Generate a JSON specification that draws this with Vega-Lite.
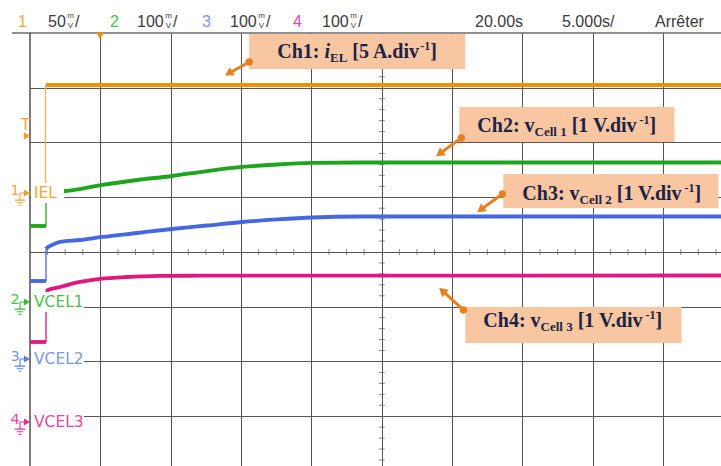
{
  "$schema": "https://vega.github.io/schema/vega-lite/v6.json",
  "width": 691,
  "height": 433,
  "autosize": {"type": "none"},
  "padding": {"left": 30, "top": 33, "right": 0, "bottom": 0},
  "background": "white",
  "config": {"view": {"stroke": null}},
  "datasets": {
    "traces": [
      {"ch": "1", "seg": "1a", "t": 0, "v": 1.078},
      {"ch": "1", "seg": "1a", "t": 1.138, "v": 1.078},
      {"ch": "1", "seg": "1b", "t": 1.138, "v": 3.05},
      {"ch": "1", "seg": "1b", "t": 49.11, "v": 3.05},
      {"ch": "2", "seg": "2a", "t": 0, "v": 0.475},
      {"ch": "2", "seg": "2a", "t": 1.138, "v": 0.475},
      {"ch": "2", "seg": "2b", "t": 1.138, "v": 1.105},
      {"ch": "2", "seg": "2b", "t": 2.489, "v": 1.114},
      {"ch": "2", "seg": "2b", "t": 5.121, "v": 1.224},
      {"ch": "2", "seg": "2b", "t": 7.61, "v": 1.315},
      {"ch": "2", "seg": "2b", "t": 10.1, "v": 1.388},
      {"ch": "2", "seg": "2b", "t": 12.589, "v": 1.479},
      {"ch": "2", "seg": "2b", "t": 15.078, "v": 1.553},
      {"ch": "2", "seg": "2b", "t": 17.568, "v": 1.598},
      {"ch": "2", "seg": "2b", "t": 20.057, "v": 1.626},
      {"ch": "2", "seg": "2b", "t": 23.471, "v": 1.635},
      {"ch": "2", "seg": "2b", "t": 49.11, "v": 1.635},
      {"ch": "3", "seg": "3a", "t": 0, "v": -0.53},
      {"ch": "3", "seg": "3a", "t": 1.138, "v": -0.53},
      {"ch": "3", "seg": "3b", "t": 1.138, "v": 0.055},
      {"ch": "3", "seg": "3b", "t": 1.28, "v": 0.091},
      {"ch": "3", "seg": "3b", "t": 1.565, "v": 0.128},
      {"ch": "3", "seg": "3b", "t": 2.134, "v": 0.183},
      {"ch": "3", "seg": "3b", "t": 3.556, "v": 0.219},
      {"ch": "3", "seg": "3b", "t": 5.121, "v": 0.274},
      {"ch": "3", "seg": "3b", "t": 7.61, "v": 0.347},
      {"ch": "3", "seg": "3b", "t": 10.1, "v": 0.42},
      {"ch": "3", "seg": "3b", "t": 12.589, "v": 0.484},
      {"ch": "3", "seg": "3b", "t": 15.078, "v": 0.548},
      {"ch": "3", "seg": "3b", "t": 17.568, "v": 0.594},
      {"ch": "3", "seg": "3b", "t": 20.057, "v": 0.63},
      {"ch": "3", "seg": "3b", "t": 23.471, "v": 0.648},
      {"ch": "3", "seg": "3b", "t": 49.11, "v": 0.648},
      {"ch": "4", "seg": "4a", "t": 0, "v": -1.644},
      {"ch": "4", "seg": "4a", "t": 1.138, "v": -1.644},
      {"ch": "4", "seg": "4b", "t": 1.138, "v": -0.712},
      {"ch": "4", "seg": "4b", "t": 1.28, "v": -0.694},
      {"ch": "4", "seg": "4b", "t": 2.134, "v": -0.639},
      {"ch": "4", "seg": "4b", "t": 3.201, "v": -0.566},
      {"ch": "4", "seg": "4b", "t": 4.979, "v": -0.493},
      {"ch": "4", "seg": "4b", "t": 6.899, "v": -0.457},
      {"ch": "4", "seg": "4b", "t": 9.246, "v": -0.438},
      {"ch": "4", "seg": "4b", "t": 12.091, "v": -0.433},
      {"ch": "4", "seg": "4b", "t": 49.11, "v": -0.429}
    ],
    "steps": [
      {"ch": "1", "t": 1.102, "v1": 1.078, "v2": 3.05},
      {"ch": "2", "t": 1.138, "v1": 0.475, "v2": 1.105},
      {"ch": "3", "t": 1.138, "v1": -0.53, "v2": 0.055},
      {"ch": "4", "t": 1.138, "v1": -1.644, "v2": -0.712}
    ],
    "frame": [
      {"t": -1.28, "t2": 49.11, "v": 4, "v2": 4},
      {"t": 0, "t2": 0, "v": -3.909, "v2": 4}
    ],
    "xminor": [
      {"t": 1.25}, {"t": 2.5}, {"t": 3.75}, {"t": 6.25}, {"t": 7.5}, {"t": 8.75},
      {"t": 11.25}, {"t": 12.5}, {"t": 13.75}, {"t": 16.25}, {"t": 17.5}, {"t": 18.75},
      {"t": 21.25}, {"t": 22.5}, {"t": 23.75}, {"t": 26.25}, {"t": 27.5}, {"t": 28.75},
      {"t": 31.25}, {"t": 32.5}, {"t": 33.75}, {"t": 36.25}, {"t": 37.5}, {"t": 38.75},
      {"t": 41.25}, {"t": 42.5}, {"t": 43.75}, {"t": 46.25}, {"t": 47.5}, {"t": 48.75}
    ],
    "yminor": [
      {"v": -3.8}, {"v": -3.6}, {"v": -3.4}, {"v": -3.2}, {"v": -2.8}, {"v": -2.6}, {"v": -2.4}, {"v": -2.2},
      {"v": -1.8}, {"v": -1.6}, {"v": -1.4}, {"v": -1.2}, {"v": -0.8}, {"v": -0.6}, {"v": -0.4}, {"v": -0.2},
      {"v": 0.2}, {"v": 0.4}, {"v": 0.6}, {"v": 0.8}, {"v": 1.2}, {"v": 1.4}, {"v": 1.6}, {"v": 1.8},
      {"v": 2.2}, {"v": 2.4}, {"v": 2.6}, {"v": 2.8}, {"v": 3.2}, {"v": 3.4}, {"v": 3.6}, {"v": 3.8}
    ],
    "chans": [
      {"ch": "1", "name": "IEL", "v": 1.078, "vt": 1.261, "vb": 0.895, "t1": 0.071, "t2": 2.418},
      {"ch": "2", "name": "VCEL1", "v": -0.913, "vt": -0.73, "vb": -1.096, "t1": 0.071, "t2": 3.841},
      {"ch": "3", "name": "VCEL2", "v": -1.954, "vt": -1.771, "vb": -2.137, "t1": 0.071, "t2": 3.841},
      {"ch": "4", "name": "VCEL3", "v": -3.105, "vt": -2.922, "vb": -3.288, "t1": 0.071, "t2": 3.841}
    ],
    "header": [
      {"t": -0.853, "s": "1", "c": "1"},
      {"t": 1.279, "s": "50", "c": "0"},
      {"t": 3.198, "s": "/", "c": "0"},
      {"t": 5.686, "s": "2", "c": "2"},
      {"t": 7.605, "s": "100", "c": "0"},
      {"t": 10.163, "s": "/", "c": "0"},
      {"t": 12.225, "s": "3", "c": "3"},
      {"t": 14.215, "s": "100", "c": "0"},
      {"t": 16.773, "s": "/", "c": "0"},
      {"t": 18.692, "s": "4", "c": "4"},
      {"t": 20.753, "s": "100", "c": "0"},
      {"t": 23.312, "s": "/", "c": "0"},
      {"t": 31.628, "s": "20.00s", "c": "0"},
      {"t": 37.811, "s": "5.000s/", "c": "0"},
      {"t": 44.421, "s": "Arrêter", "c": "0"}
    ],
    "units": [
      {"t": 2.878, "v": 4.28, "s": "m"}, {"t": 2.878, "v": 4.1, "s": "V"},
      {"t": 9.844, "v": 4.28, "s": "m"}, {"t": 9.844, "v": 4.1, "s": "V"},
      {"t": 16.453, "v": 4.28, "s": "m"}, {"t": 16.453, "v": 4.1, "s": "V"},
      {"t": 22.992, "v": 4.28, "s": "m"}, {"t": 22.992, "v": 4.1, "s": "V"}
    ],
    "boxes": [
      {"t1": 15.576, "t2": 30.939, "v1": 3.982, "v2": 3.342},
      {"t1": 30.512, "t2": 45.804, "v1": 2.648, "v2": 2.009},
      {"t1": 33.642, "t2": 48.933, "v1": 1.425, "v2": 0.804},
      {"t1": 30.939, "t2": 46.302, "v1": -1.005, "v2": -1.662}
    ],
    "maintext": [
      {"t": 17.568, "v": 3.543, "s": "Ch1:"},
      {"t": 22.909, "v": 3.543, "s": "[5 A.div"},
      {"t": 28.442, "v": 3.543, "s": "]"},
      {"t": 31.792, "v": 2.192, "s": "Ch2: v"},
      {"t": 38.5, "v": 2.192, "s": "[1 V.div"},
      {"t": 44.033, "v": 2.192, "s": "]"},
      {"t": 34.993, "v": 0.95, "s": "Ch3: v"},
      {"t": 41.7, "v": 0.95, "s": "[1 V.div"},
      {"t": 47.233, "v": 0.95, "s": "]"},
      {"t": 32.219, "v": -1.37, "s": "Ch4: v"},
      {"t": 38.926, "v": -1.37, "s": "[1 V.div"},
      {"t": 44.459, "v": -1.37, "s": "]"}
    ],
    "italtext": [
      {"t": 20.925, "v": 3.543, "s": "i"}
    ],
    "subtext": [
      {"t": 21.323, "v": 3.47, "s": "EL"},
      {"t": 35.861, "v": 2.119, "s": "Cell 1"},
      {"t": 39.061, "v": 0.877, "s": "Cell 2"},
      {"t": 36.287, "v": -1.443, "s": "Cell 3"}
    ],
    "suptext": [
      {"t": 27.731, "v": 3.689, "s": "-1"},
      {"t": 43.321, "v": 2.338, "s": "-1"},
      {"t": 46.522, "v": 1.096, "s": "-1"},
      {"t": 43.748, "v": -1.224, "s": "-1"}
    ],
    "arrows": [
      {"id": 1, "t": 15.576, "v": 3.47, "t2": 14.118, "v2": 3.26},
      {"id": 2, "t": 30.654, "v": 2.082, "t2": 29.104, "v2": 1.795},
      {"id": 3, "t": 33.57, "v": 1.059, "t2": 32.02, "v2": 0.773},
      {"id": 4, "t": 30.797, "v": -1.059, "t2": 29.303, "v2": -0.707}
    ]
  },
  "resolve": {"scale": {"color": "independent"}},
  "layer": [
    {
      "data": {"name": "xminor"},
      "mark": {"type": "tick", "orient": "vertical", "size": 6, "thickness": 1, "color": "#555555"},
      "encoding": {
        "x": {"field": "t", "type": "quantitative", "scale": {"domain": [0, 49.11], "nice": false, "zero": false},
          "axis": {"orient": "bottom", "values": [5, 10, 15, 20, 25, 30, 35, 40, 45], "grid": true, "gridColor": "#555555", "gridWidth": 1, "gridOpacity": 1, "domain": false, "ticks": false, "labels": false, "title": null}},
        "y": {"datum": 0, "type": "quantitative", "scale": {"domain": [-3.909, 4], "nice": false, "zero": false},
          "axis": {"orient": "left", "values": [-3, -2, -1, 0, 1, 2, 3], "grid": true, "gridColor": "#555555", "gridWidth": 1, "gridOpacity": 1, "domain": false, "ticks": false, "labels": false, "title": null}}
      }
    },
    {
      "data": {"name": "yminor"},
      "mark": {"type": "tick", "orient": "horizontal", "size": 6, "thickness": 1, "color": "#555555"},
      "encoding": {
        "x": {"datum": 25, "type": "quantitative"},
        "y": {"field": "v", "type": "quantitative"}
      }
    },
    {
      "data": {"name": "frame"},
      "mark": {"type": "rule", "color": "#222222", "strokeWidth": 1.2},
      "encoding": {
        "x": {"field": "t", "type": "quantitative"},
        "x2": {"field": "t2"},
        "y": {"field": "v", "type": "quantitative"},
        "y2": {"field": "v2"}
      }
    },
    {
      "data": {"name": "steps"},
      "mark": {"type": "rule", "strokeWidth": 1.3},
      "encoding": {
        "x": {"field": "t", "type": "quantitative"},
        "y": {"field": "v1", "type": "quantitative"},
        "y2": {"field": "v2"},
        "color": {"field": "ch", "type": "nominal", "scale": {"domain": ["1", "2", "3", "4"], "range": ["#f0b060", "#22aa22", "#4567e3", "#d8107a"]}, "legend": null}
      }
    },
    {
      "data": {"name": "traces"},
      "mark": {"type": "line", "strokeWidth": 3.8, "interpolate": "monotone"},
      "encoding": {
        "x": {"field": "t", "type": "quantitative"},
        "y": {"field": "v", "type": "quantitative"},
        "detail": {"field": "seg"},
        "color": {"field": "ch", "type": "nominal", "scale": {"domain": ["1", "2", "3", "4"], "range": ["#f29100", "#1da51d", "#4567e3", "#e0187f"]}, "legend": null}
      }
    },
    {
      "data": {"name": "chans"},
      "mark": {"type": "rect", "color": "white"},
      "encoding": {
        "x": {"field": "t1", "type": "quantitative"},
        "x2": {"field": "t2"},
        "y": {"field": "vt", "type": "quantitative"},
        "y2": {"field": "vb"}
      }
    },
    {
      "data": {"name": "chans"},
      "mark": {"type": "text", "align": "left", "baseline": "middle", "font": "DejaVu Sans", "fontSize": 15.5},
      "encoding": {
        "x": {"datum": 0.284, "type": "quantitative"},
        "y": {"field": "v", "type": "quantitative"},
        "text": {"field": "name"},
        "color": {"field": "ch", "type": "nominal", "scale": {"domain": ["1", "2", "3", "4"], "range": ["#f4a53c", "#4cbf4c", "#7b98e6", "#e347a6"]}, "legend": null}
      }
    },
    {
      "data": {"name": "chans"},
      "mark": {"type": "text", "align": "center", "baseline": "middle", "font": "DejaVu Sans", "fontSize": 14.5, "dy": -2},
      "encoding": {
        "x": {"datum": -1.067, "type": "quantitative"},
        "y": {"field": "v", "type": "quantitative"},
        "text": {"field": "ch"},
        "color": {"field": "ch", "type": "nominal", "scale": {"domain": ["1", "2", "3", "4"], "range": ["#f4a53c", "#4cbf4c", "#7b98e6", "#e347a6"]}, "legend": null}
      }
    },
    {
      "data": {"name": "chans"},
      "mark": {"type": "point", "shape": "triangle-right", "filled": true, "size": 50, "opacity": 1},
      "encoding": {
        "x": {"datum": -0.213, "type": "quantitative"},
        "y": {"field": "v", "type": "quantitative"},
        "color": {"field": "ch", "type": "nominal", "scale": {"domain": ["1", "2", "3", "4"], "range": ["#f0a030", "#3cb83c", "#5a7de6", "#e0309a"]}, "legend": null}
      }
    },
    {
      "data": {"name": "chans"},
      "mark": {"type": "point", "shape": "M0,-1L0.9,-1M0,-1L0,0.1M-0.8,0.1L0.8,0.1M-0.5,0.5L0.5,0.5M-0.2,0.9L0.2,0.9", "filled": false, "size": 169, "strokeWidth": 1.1, "yOffset": 6.5, "opacity": 1},
      "encoding": {
        "x": {"datum": -0.711, "type": "quantitative"},
        "y": {"field": "v", "type": "quantitative"},
        "color": {"field": "ch", "type": "nominal", "scale": {"domain": ["1", "2", "3", "4"], "range": ["#f0a030", "#3cb83c", "#5a7de6", "#e0309a"]}, "legend": null}
      }
    },
    {
      "data": {"values": [{"s": "T"}]},
      "mark": {"type": "text", "align": "center", "baseline": "middle", "font": "DejaVu Sans", "fontSize": 15, "color": "#f4a53c"},
      "encoding": {
        "x": {"datum": -0.32, "type": "quantitative"},
        "y": {"datum": 2.32, "type": "quantitative"},
        "text": {"field": "s"}
      }
    },
    {
      "data": {"values": [{"s": "T"}]},
      "mark": {"type": "point", "shape": "triangle-right", "filled": true, "size": 55, "color": "#f0a030", "opacity": 1},
      "encoding": {
        "x": {"datum": -0.213, "type": "quantitative"},
        "y": {"datum": 2.119, "type": "quantitative"}
      }
    },
    {
      "data": {"values": [{"s": "trig"}]},
      "mark": {"type": "point", "shape": "triangle-down", "filled": true, "size": 60, "color": "#f08c00", "opacity": 1},
      "encoding": {
        "x": {"datum": 4.979, "type": "quantitative"},
        "y": {"datum": 3.95, "type": "quantitative"}
      }
    },
    {
      "data": {"name": "header"},
      "mark": {"type": "text", "align": "left", "baseline": "alphabetic", "font": "Liberation Sans", "fontSize": 16},
      "encoding": {
        "x": {"field": "t", "type": "quantitative"},
        "y": {"datum": 4.11, "type": "quantitative"},
        "text": {"field": "s"},
        "color": {"field": "c", "type": "nominal", "scale": {"domain": ["0", "1", "2", "3", "4"], "range": ["#3a3a3a", "#f4a53c", "#4cbf4c", "#7b98e6", "#e347a6"]}, "legend": null}
      }
    },
    {
      "data": {"name": "units"},
      "mark": {"type": "text", "align": "center", "baseline": "alphabetic", "font": "Liberation Sans", "fontSize": 8, "color": "#3a3a3a"},
      "encoding": {
        "x": {"field": "t", "type": "quantitative"},
        "y": {"field": "v", "type": "quantitative"},
        "text": {"field": "s"}
      }
    },
    {
      "data": {"name": "boxes"},
      "mark": {"type": "rect", "color": "#f8c6a0"},
      "encoding": {
        "x": {"field": "t1", "type": "quantitative"},
        "x2": {"field": "t2"},
        "y": {"field": "v1", "type": "quantitative"},
        "y2": {"field": "v2"}
      }
    },
    {
      "data": {"name": "maintext"},
      "mark": {"type": "text", "align": "left", "baseline": "alphabetic", "font": "Liberation Serif", "fontWeight": "bold", "fontSize": 20, "color": "#1b2447"},
      "encoding": {
        "x": {"field": "t", "type": "quantitative"},
        "y": {"field": "v", "type": "quantitative"},
        "text": {"field": "s"}
      }
    },
    {
      "data": {"name": "italtext"},
      "mark": {"type": "text", "align": "left", "baseline": "alphabetic", "font": "Liberation Serif", "fontWeight": "bold", "fontStyle": "italic", "fontSize": 20, "color": "#1b2447"},
      "encoding": {
        "x": {"field": "t", "type": "quantitative"},
        "y": {"field": "v", "type": "quantitative"},
        "text": {"field": "s"}
      }
    },
    {
      "data": {"name": "subtext"},
      "mark": {"type": "text", "align": "left", "baseline": "alphabetic", "font": "Liberation Serif", "fontWeight": "bold", "fontSize": 13, "color": "#1b2447"},
      "encoding": {
        "x": {"field": "t", "type": "quantitative"},
        "y": {"field": "v", "type": "quantitative"},
        "text": {"field": "s"}
      }
    },
    {
      "data": {"name": "suptext"},
      "mark": {"type": "text", "align": "left", "baseline": "alphabetic", "font": "Liberation Serif", "fontWeight": "bold", "fontSize": 12, "color": "#1b2447"},
      "encoding": {
        "x": {"field": "t", "type": "quantitative"},
        "y": {"field": "v", "type": "quantitative"},
        "text": {"field": "s"}
      }
    },
    {
      "data": {"name": "arrows"},
      "mark": {"type": "rule", "strokeWidth": 3, "color": "#e8801e"},
      "encoding": {
        "x": {"field": "t", "type": "quantitative"},
        "x2": {"field": "t2"},
        "y": {"field": "v", "type": "quantitative"},
        "y2": {"field": "v2"}
      }
    },
    {
      "data": {"name": "arrows"},
      "mark": {"type": "point", "shape": "circle", "filled": true, "size": 55, "color": "#e8801e", "opacity": 1},
      "encoding": {
        "x": {"field": "t", "type": "quantitative"},
        "y": {"field": "v", "type": "quantitative"}
      }
    },
    {
      "data": {"name": "arrows"},
      "transform": [{"filter": "datum.id == 1"}],
      "mark": {"type": "point", "shape": "triangle-up", "filled": true, "size": 95, "color": "#e8801e", "opacity": 1, "angle": 240},
      "encoding": {
        "x": {"field": "t2", "type": "quantitative"},
        "y": {"field": "v2", "type": "quantitative"}
      }
    },
    {
      "data": {"name": "arrows"},
      "transform": [{"filter": "datum.id == 2 || datum.id == 3"}],
      "mark": {"type": "point", "shape": "triangle-up", "filled": true, "size": 95, "color": "#e8801e", "opacity": 1, "angle": 234},
      "encoding": {
        "x": {"field": "t2", "type": "quantitative"},
        "y": {"field": "v2", "type": "quantitative"}
      }
    },
    {
      "data": {"name": "arrows"},
      "transform": [{"filter": "datum.id == 4"}],
      "mark": {"type": "point", "shape": "triangle-up", "filled": true, "size": 95, "color": "#e8801e", "opacity": 1, "angle": 312},
      "encoding": {
        "x": {"field": "t2", "type": "quantitative"},
        "y": {"field": "v2", "type": "quantitative"}
      }
    }
  ]
}
